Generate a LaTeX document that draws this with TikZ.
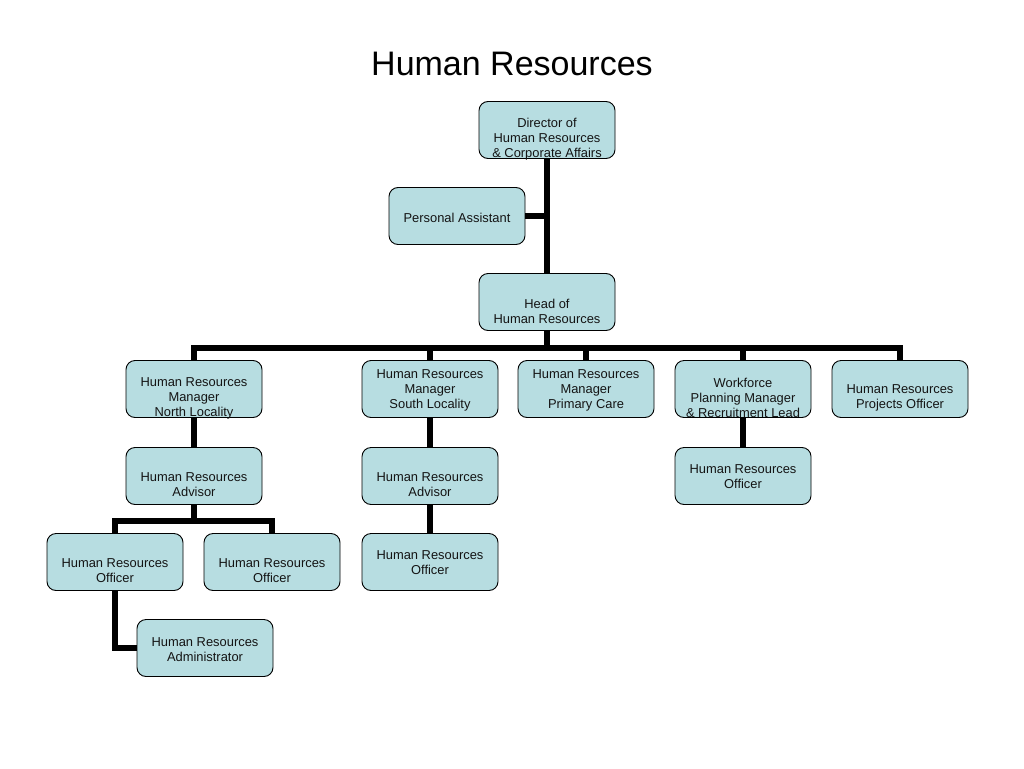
\documentclass[tikz,border=0pt]{standalone}
\usepackage{fontspec}
\setmainfont{Liberation Sans}
\definecolor{boxfill}{RGB}{183,221,225}
\definecolor{txtcol}{RGB}{20,20,20}
\begin{document}
\begin{tikzpicture}[x=1pt,y=-1pt,
  box/.style={draw=black,line width=0.9pt,fill=boxfill,rounded corners=9pt,minimum width=136pt,minimum height=57pt,inner sep=0pt},
  txt/.style={align=center,font=\fontsize{12.9}{15}\selectfont,text=txtcol,inner sep=0pt},
  conn/.style={line width=6pt,line cap=butt,line join=miter}]
\useasboundingbox (0,0) rectangle (1024,768);
\fill[white] (0,0) rectangle (1024,768);
\node[font=\fontsize{34}{40}\selectfont] (title) at (512,64) {Human Resources};
% boxes
\node[box] (dir) at (547,130) {};
\node[box] (pa) at (457,216) {};
\node[box] (head) at (547,302) {};
\node[box] (nl) at (194,389) {};
\node[box] (sl) at (430,389) {};
\node[box] (pc) at (586,389) {};
\node[box] (wf) at (743,389) {};
\node[box] (po) at (900,389) {};
\node[box] (adnl) at (194,476) {};
\node[box] (adsl) at (430,476) {};
\node[box] (ofwf) at (743,476) {};
\node[box] (ofsl) at (430,562) {};
\node[box] (of1) at (115,562) {};
\node[box] (of2) at (272,562) {};
\node[box] (adm) at (205,648) {};
% connectors
\coordinate (bus) at (547,348);
\coordinate (bus2) at (194,521);
\draw[conn] (dir.south) -- (head.north);
\draw[conn] (pa.east) -- ([xshift=3pt]pa.east -| dir.south);
\draw[conn] (head.south) -- ([yshift=3pt]bus);
\draw[conn] (nl.north) -- (nl.north |- bus) -- (po.north |- bus) -- (po.north);
\draw[conn] (sl.north) -- (sl.north |- bus);
\draw[conn] (pc.north) -- (pc.north |- bus);
\draw[conn] (wf.north) -- (wf.north |- bus);
\draw[conn] (nl.south) -- (adnl.north);
\draw[conn] (sl.south) -- (adsl.north);
\draw[conn] (adsl.south) -- (ofsl.north);
\draw[conn] (wf.south) -- (ofwf.north);
\draw[conn] (adnl.south) -- (bus2);
\draw[conn] (of1.north) -- (of1.north |- bus2) -- (of2.north |- bus2) -- (of2.north);
\draw[conn] (of1.south) |- (adm.west);
% texts
\node[txt] (dirt) at (547,139) {Director of\\Human Resources\\\& Corporate Affairs};
\node[txt] (pat) at (457,218) {Personal Assistant};
\node[txt] (headt) at (547,311) {Head of\\Human Resources};
\node[txt] (nlt) at (194,398) {Human Resources\\Manager\\North Locality};
\node[txt] (slt) at (430,390) {Human Resources\\Manager\\South Locality};
\node[txt] (pct) at (586,390) {Human Resources\\Manager\\Primary Care};
\node[txt] (wft) at (743,398) {Workforce\\Planning Manager\\\& Recruitment Lead};
\node[txt] (pot) at (900,398) {Human Resources\\Projects Officer};
\node[txt] (adnlt) at (194,485) {Human Resources\\Advisor};
\node[txt] (adslt) at (430,485) {Human Resources\\Advisor};
\node[txt] (ofwft) at (743,477) {Human Resources\\Officer};
\node[txt] (ofslt) at (430,563) {Human Resources\\Officer};
\node[txt] (of1t) at (115,571) {Human Resources\\Officer};
\node[txt] (of2t) at (272,571) {Human Resources\\Officer};
\node[txt] (admt) at (205,650) {Human Resources\\Administrator};
\end{tikzpicture}
\end{document}
